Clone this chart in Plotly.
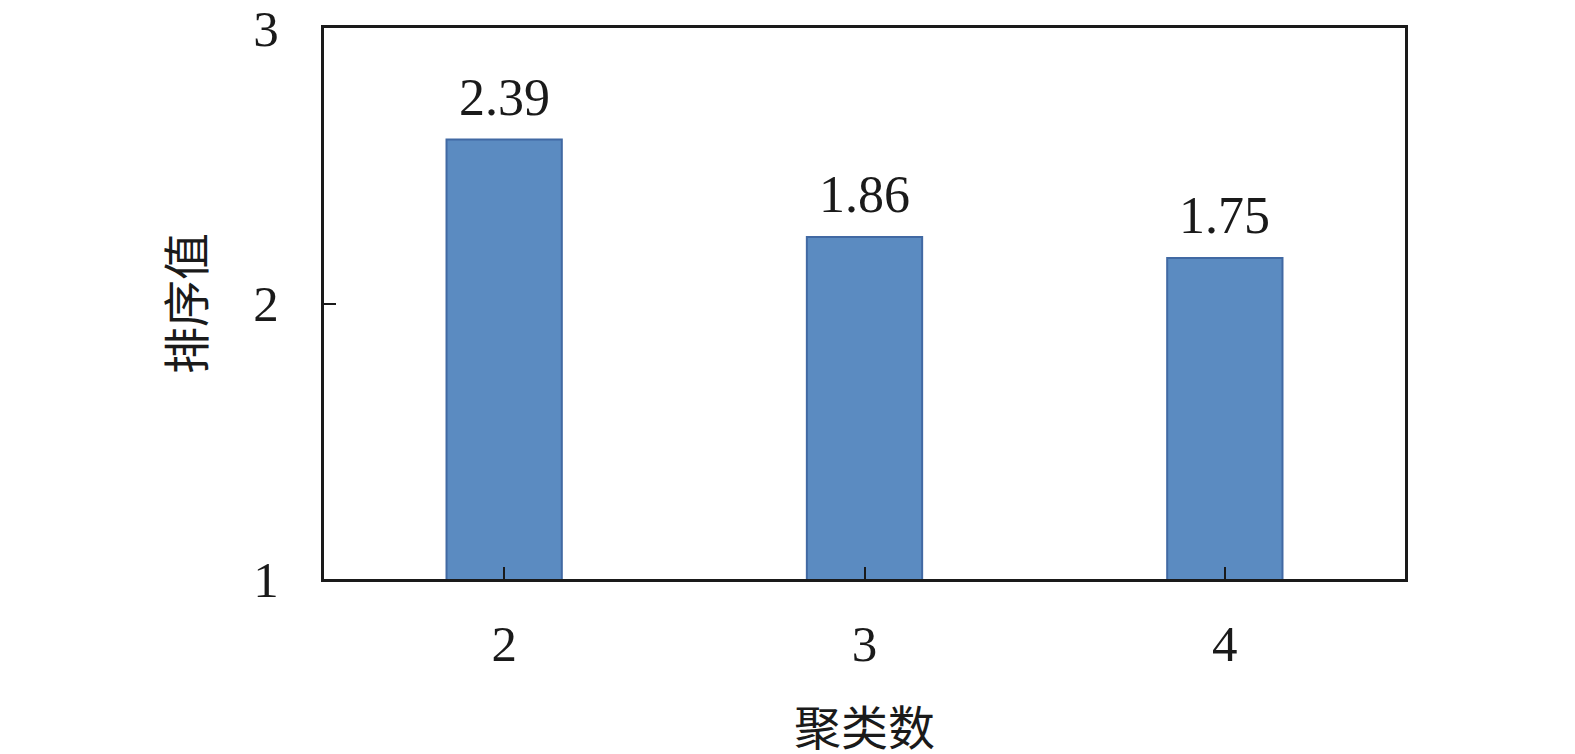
import plotly.graph_objects as go

categories = ["2", "3", "4"]
bar_heights = [2.595, 2.241, 2.165]
bar_labels = ["2.39", "1.86", "1.75"]
y_ticks = [1, 2, 3]

serif = "Liberation Serif, Times New Roman, serif"

fig = go.Figure()
fig.add_trace(go.Bar(
    x=categories, y=bar_heights, width=0.32,
    marker=dict(color="#5b8bc1", line=dict(color="#4169a3", width=2)),
    showlegend=False,
))
for i, (h, t) in enumerate(zip(bar_heights, bar_labels)):
    fig.add_annotation(x=i, y=h, xref="x", yref="y", text=t, showarrow=False, yanchor="bottom",
                       yshift=12, font=dict(family=serif, size=52, color="#1a1a1a"))

axis_font = dict(family=serif, size=51, color="#1a1a1a")
fig.update_layout(
    width=1575, height=754,
    margin=dict(l=316, r=178, t=20, b=183, autoexpand=False),
    paper_bgcolor="white", plot_bgcolor="white",
    font=dict(family=serif),
)
fig.update_xaxes(
    type="category", showline=True, mirror=True, linewidth=3, linecolor="#1a1a1a",
    ticks="inside", ticklen=12, tickwidth=2, tickcolor="#1a1a1a", automargin=False,
    tickfont=axis_font, ticklabelstandoff=18, showgrid=False,
    title=dict(text="聚类数", font=dict(family="Noto Sans CJK SC", size=47, color="#1a1a1a"), standoff=41),
)
fig.update_yaxes(
    range=[1, 3], tickvals=y_ticks, showline=True, mirror=True, linewidth=3, linecolor="#1a1a1a",
    ticks="inside", ticklen=12, tickwidth=2, tickcolor="#1a1a1a", automargin=False,
    tickfont=axis_font, ticklabelstandoff=32, showgrid=False, zeroline=False,
    ticklabeloverflow="allow",
    title=dict(text="排序值", font=dict(family="Noto Sans CJK SC", size=47, color="#1a1a1a"), standoff=34),
)
fig.write_html("out.html")
